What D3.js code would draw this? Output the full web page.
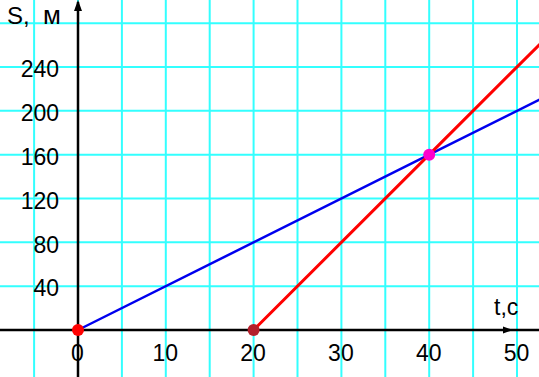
<!DOCTYPE html>
<html>
<head>
<meta charset="utf-8">
<script src="https://cdn.jsdelivr.net/npm/d3@7"></script>
<style>
  body { margin: 0; background: #fff; }
  text { font-family: Arial, "Liberation Sans", sans-serif; }
</style>
</head>
<body>
<div id="chart"></div>
<script>
// data
var xTicks = [0, 10, 20, 30, 40, 50];
var yTicks = [40, 80, 120, 160, 200, 240];
var xGrid = [-5, 0, 5, 10, 15, 20, 25, 30, 35, 40, 45, 50];
var yGrid = [0, 40, 80, 120, 160, 200, 240, 280];
var blueLine = [[0, 0], [40, 160], [53, 212]];
var redLine = [[20, 0], [40, 160], [53, 264]];
var dots = [[0, 0], [20, 0], [40, 160]];
var dotColors = ["#ff0000", "#b3202c", "#ff00cc"];

var svgWidth = 539;
var svgHeight = 377;

var svg = d3.select("#chart")
    .append("svg")
    .attr("width", svgWidth)
    .attr("height", svgHeight);

var x = d3.scaleLinear().domain([0, 50]).range([78, 517]);
var y = d3.scaleLinear().domain([0, 240]).range([330, 67]);

svg.append("defs").append("clipPath")
    .attr("id", "clip")
    .append("rect")
    .attr("width", svgWidth)
    .attr("height", svgHeight);

// grid
svg.append("g").selectAll("line")
    .data(xGrid)
    .enter()
    .append("line")
    .attr("x1", d => x(d)).attr("x2", d => x(d))
    .attr("y1", 0).attr("y2", svgHeight)
    .attr("stroke", "#33ffff")
    .attr("stroke-width", 2);

svg.append("g").selectAll("line")
    .data(yGrid)
    .enter()
    .append("line")
    .attr("y1", d => y(d)).attr("y2", d => y(d))
    .attr("x1", 0).attr("x2", svgWidth)
    .attr("stroke", "#33ffff")
    .attr("stroke-width", 2);

// axes lines with arrows
svg.append("line")
    .attr("x1", 0).attr("x2", svgWidth)
    .attr("y1", y(0)).attr("y2", y(0))
    .attr("stroke", "#000")
    .attr("stroke-width", 2.5);

svg.append("line")
    .attr("x1", x(0)).attr("x2", x(0))
    .attr("y1", svgHeight).attr("y2", 2)
    .attr("stroke", "#000")
    .attr("stroke-width", 2.5);

svg.append("path")
    .attr("d", `M${x(0)},0 L${x(0) - 4},11 L${x(0) + 4},11 Z`)
    .attr("fill", "#000");

svg.append("path")
    .attr("d", `M513,${y(0)} L503,${y(0) - 3.5} L503,${y(0) + 3.5} Z`)
    .attr("fill", "#000");

// tick labels
var leftAxis = d3.axisLeft(y).tickValues(yTicks).tickSize(0).tickPadding(19);
var bottomAxis = d3.axisBottom(x).tickValues(xTicks).tickSize(0).tickPadding(15);

var gy = svg.append("g")
    .attr("transform", `translate(${x(0)},0)`)
    .call(leftAxis);
gy.select(".domain").remove();
gy.selectAll("text")
    .attr("dy", "0.42em")
    .style("font-size", "23px")
    .attr("fill", "#000");

var gx = svg.append("g")
    .attr("transform", `translate(-1,${y(0)})`)
    .call(bottomAxis);
gx.select(".domain").remove();
gx.selectAll("text")
    .style("font-size", "23px")
    .attr("fill", "#000");

// lines
var line = d3.line()
    .x(d => x(d[0]))
    .y(d => y(d[1]));

svg.append("path")
    .datum(blueLine)
    .attr("clip-path", "url(#clip)")
    .attr("d", line)
    .attr("fill", "none")
    .attr("stroke", "#0000ee")
    .attr("stroke-width", 2.5);

svg.append("path")
    .datum(redLine)
    .attr("clip-path", "url(#clip)")
    .attr("d", line)
    .attr("fill", "none")
    .attr("stroke", "#ff0000")
    .attr("stroke-width", 3);

svg.append("g").selectAll("circle")
    .data(dots)
    .enter()
    .append("circle")
    .attr("cx", d => x(d[0]))
    .attr("cy", d => y(d[1]))
    .attr("r", 6)
    .attr("fill", (d, i) => dotColors[i]);

// axis titles
var sLabel = svg.append("text")
    .attr("y", 24)
    .style("font-size", "24px");
sLabel.append("tspan").attr("x", 7).text("S,");
sLabel.append("tspan").attr("x", 43).style("font-size", "26px").text("м");

svg.append("text")
    .attr("x", 494)
    .attr("y", 315)
    .style("font-size", "23px")
    .text("t,c");
</script>
</body>
</html>
